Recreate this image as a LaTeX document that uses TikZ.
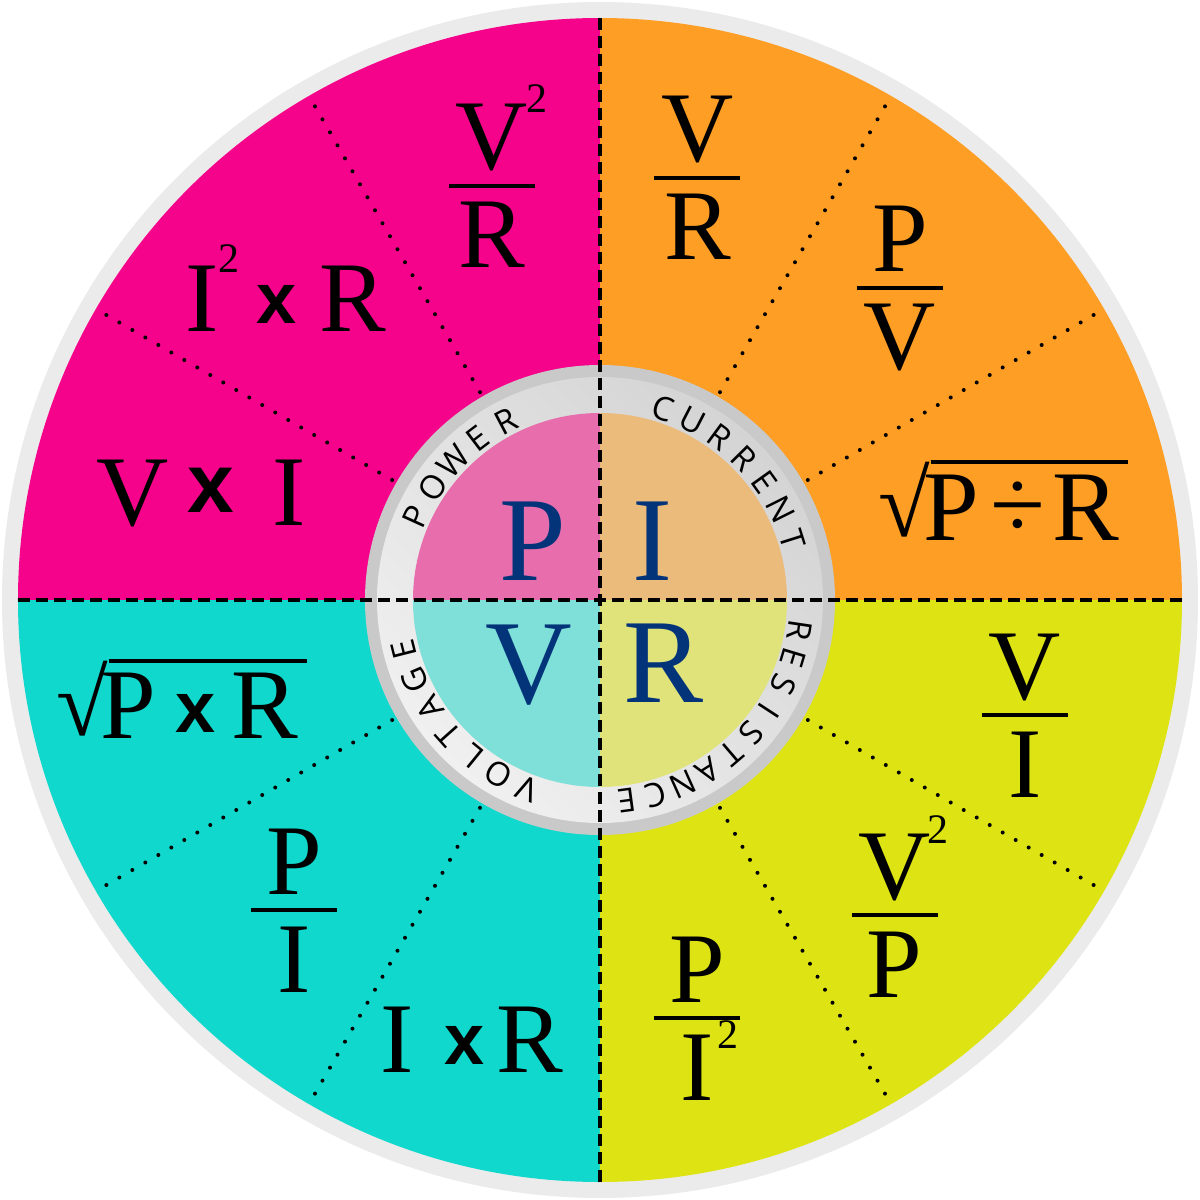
\documentclass[tikz,border=0pt]{standalone}
\usepackage{fontspec}
\setmainfont{Liberation Serif}
\newfontfamily\ringfont{Open Sans}
\newfontfamily\crossfont{Liberation Sans}
\definecolor{powerpink}{HTML}{F5038A}
\definecolor{currentorange}{HTML}{FE9E24}
\definecolor{voltcyan}{HTML}{10D8CC}
\definecolor{resyellow}{HTML}{DEE414}
\definecolor{rimgray}{HTML}{EBEBEB}
\definecolor{hubedge}{HTML}{C9C9C9}
\definecolor{hubdark}{HTML}{D4D4D4}
\definecolor{hublight}{HTML}{F0F0F0}
\definecolor{hubpink}{HTML}{E86DAC}
\definecolor{huborange}{HTML}{EBBB7B}
\definecolor{hubcyan}{HTML}{7FE0D9}
\definecolor{hubyellow}{HTML}{E0E37A}
\definecolor{letterblue}{HTML}{03347A}

\begin{document}
\begin{tikzpicture}[
  x=0.5pt, y=0.5pt,
  every node/.style={inner sep=0pt},
  formula/.style={font=\fontsize{50}{50}\selectfont, anchor=base},
  supscript/.style={font=\fontsize{21}{21}\selectfont, anchor=base},
  cross/.style={font=\crossfont\bfseries\fontsize{#1}{#1}\selectfont},
  cross/.default=36,
  radical/.style={font=\fontsize{47}{47}\selectfont},
  hubletter/.style={font=\fontsize{60}{60}\selectfont, text=letterblue, anchor=base},
  ringletter/.style={font=\ringfont\fontsize{16.5}{16.5}\selectfont},
  fracbar/.style={line width=2pt},
  dotline/.style={line width=2pt, line cap=round, dash pattern=on 0pt off 7.5pt},
  axisline/.style={line width=2.2pt, dash pattern=on 6pt off 3pt},
]

\useasboundingbox (-600,-600) rectangle (600,600);

% wheel
\fill[rimgray] (0,0) circle (598);
\foreach \col/\a in {currentorange/0, powerpink/90, voltcyan/180, resyellow/270}
  \fill[\col] (0,0) -- (\a:582) arc[start angle=\a, end angle=\a+90, radius=582] -- cycle;

\foreach \a in {30,60,120,150,210,240,300,330}
  \draw[dotline] (\a:240) -- (\a:580);

% hub
\fill[hubedge] (0,0) circle (235);
\shade[top color=hubdark, bottom color=hublight, shading angle=-45] (0,0) circle (223);
\foreach \col/\a in {huborange/0, hubpink/90, hubcyan/180, hubyellow/270}
  \fill[\col] (0,0) -- (\a:187) arc[start angle=\a, end angle=\a+90, radius=187] -- cycle;

% axes
\coordinate (west) at (180:582);
\coordinate (east) at (0:582);
\coordinate (north) at (90:582);
\coordinate (south) at (270:582);
\draw[axisline] (west) -- (east);
\draw[axisline] (north) -- (south);

% ring labels
\foreach \ch [count=\i from 0] in {P,O,W,E,R}
  \node[ringletter, rotate={155.5-9.45*\i-90}] (power-\i) at ({155.5-9.45*\i}:202) {\ch};
\foreach \ch [count=\i from 0] in {C,U,R,R,E,N,T}
  \node[ringletter, rotate={71.7-9.03*\i-90}] (current-\i) at ({71.7-9.03*\i}:202) {\ch};
\foreach \ch [count=\i from 0] in {V,O,L,T,A,G,E}
  \node[ringletter, rotate={249-9.13*\i-90}] (voltage-\i) at ({249-9.13*\i}:202) {\ch};
\foreach \ch [count=\i from 0] in {R,E,S,I,S,T,A,N,C,E}
  \node[ringletter, rotate={-8.5-8.2*\i-90}] (resistance-\i) at ({-8.5-8.2*\i}:202) {\ch};

% hub letters
\node[hubletter] (hub-p) at (-67,20) {P};
\node[hubletter] (hub-i) at (52.5,20) {I};
\node[hubletter] (hub-v) at (-71,-103) {V};
\node[hubletter] (hub-r) at (64,-102) {R};

% fractions
\foreach \nm/\bx/\by/\num/\den in {pvr/-108/414/V/R, cvr/97.5/422/V/R, cpv/300/312/P/V,
    vpi/-306/-310/P/I, rvi/425/-115/V/I, rvp/294.5/-315/V/P, rpi/97/-418/P/I}{
  \node[formula] (\nm-num) at (\bx,\by+16) {\num};
  \node[formula] (\nm-den) at (\bx,\by-82) {\den};
  \draw[fracbar] (\bx-43,\by) -- (\bx+43,\by);
}
\node[supscript] (pvr-sup) at (-63,487) {2};
\node[supscript] (rvp-sup) at (338,-243) {2};
\node[supscript] (rpi-sup) at (128,-448) {2};

% products
\node[formula] (pir-i) at (-397.5,268) {I};
\node[supscript] (pir-sup) at (-371,327) {2};
\node[cross] (pir-x) at (-323,295.5) {x};
\node[formula] (pir-r) at (-247.5,268) {R};

\node[formula] (pvi-v) at (-467,75) {V};
\node[cross=42] (pvi-x) at (-389,109.5) {x};
\node[formula] (pvi-i) at (-311,75) {I};

\node[formula] (vir-i) at (-203,-472) {I};
\node[cross] (vir-x) at (-135,-445) {x};
\node[formula] (vir-r) at (-70,-472) {R};

% roots
\coordinate (cpr-end) at (528,0);
\coordinate (vpr-end) at (-293,0);
\node[radical] (cpr-rad) at (304.5,100) {√};
\draw[fracbar] (cpr-rad.north east) -- (cpr-end |- cpr-rad.north east);
\node[formula] (cpr-p) at (351,60) {P};
\node[formula, anchor=center] (cpr-div) at (418,90) {÷};
\node[formula] (cpr-r) at (485.5,60) {R};

\node[radical] (vpr-rad) at (-517.5,-99) {√};
\draw[fracbar] (vpr-rad.north east) -- (vpr-end |- vpr-rad.north east);
\node[formula] (vpr-p) at (-472,-138) {P};
\node[cross] (vpr-x) at (-404,-113.5) {x};
\node[formula] (vpr-r) at (-335.5,-138) {R};

\end{tikzpicture}
\end{document}
